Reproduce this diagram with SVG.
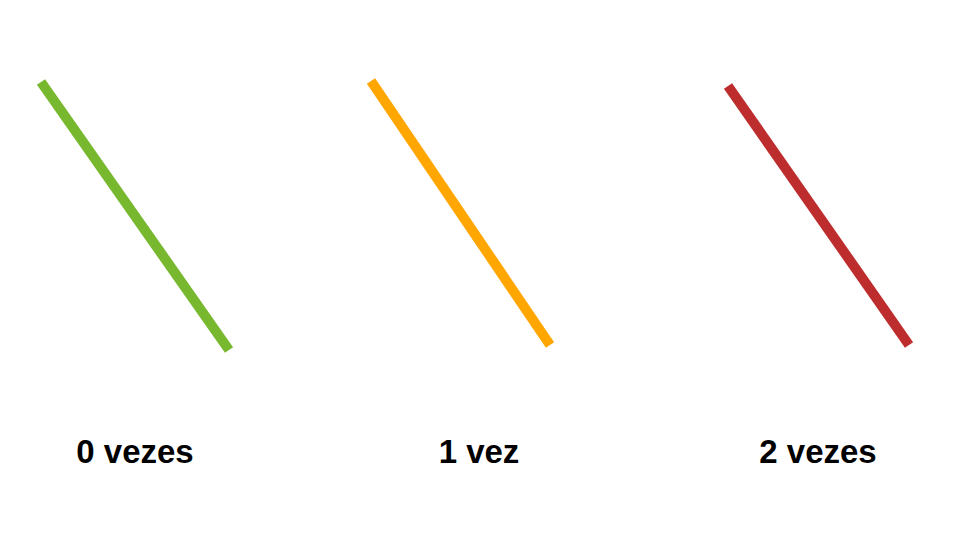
<svg xmlns="http://www.w3.org/2000/svg" width="960" height="540" viewBox="0 0 960 540">
<style>
.ln{stroke-width:10;stroke-linecap:butt;fill:none}
.lb{font-family:"Liberation Sans",Arial,sans-serif;font-weight:bold;font-size:33px;fill:#000;text-anchor:middle}
</style>
<rect width="960" height="540" fill="#fff"/>
<g id="connectors">
<line id="l0" class="ln" x1="41" y1="82" x2="229" y2="350" stroke="#77b82f"/>
<line id="l1" class="ln" x1="371" y1="81" x2="550" y2="345" stroke="#ffa600"/>
<line id="l2" class="ln" x1="728" y1="86" x2="909" y2="345" stroke="#be2d2d"/>
</g>
<g id="label0"><text class="lb" x="135" y="463">0 vezes</text></g>
<g id="label1"><text class="lb" x="479" y="463">1 vez</text></g>
<g id="label2"><text class="lb" x="818" y="463">2 vezes</text></g>
</svg>
